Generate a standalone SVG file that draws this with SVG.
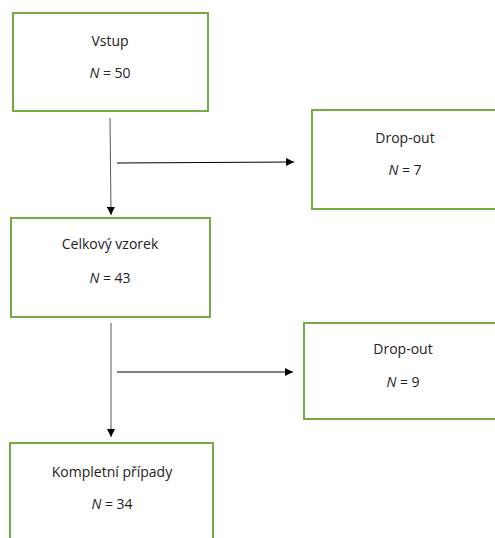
<svg xmlns="http://www.w3.org/2000/svg" width="495" height="538" viewBox="0 0 495 538">
<style>
.box{fill:#fff;stroke:#70AD47;stroke-width:2}
.t{font-family:"Open Sans","Liberation Sans",Arial,sans-serif;font-size:14px;fill:#222;text-anchor:middle}
.i{font-style:italic}
.c{stroke:#000;stroke-width:1;fill:none;marker-end:url(#ah)}
.v{stroke:#555}
</style>
<defs>
<marker id="ah" viewBox="0 0 10 10" refX="10" refY="5" markerWidth="8" markerHeight="8" markerUnits="userSpaceOnUse" orient="auto">
<path d="M0,0 L10,5 L0,10 z" fill="#000"/>
</marker>
</defs>
<rect width="495" height="538" fill="#fff"/>
<g id="connectors">
<line class="c v" x1="110" y1="118" x2="111" y2="215"/>
<line class="c" x1="117" y1="163" x2="294" y2="162"/>
<line class="c v" x1="111" y1="323" x2="111" y2="437"/>
<line class="c" x1="117" y1="372" x2="293" y2="372"/>
</g>
<g id="vstup">
<rect class="box" x="13" y="13" width="195" height="98"/>
<text class="t" x="110" y="46">Vstup</text>
<text class="t" x="110" y="78"><tspan class="i">N</tspan> = 50</text>
</g>
<g id="dropout1">
<rect class="box" x="312" y="110" width="190" height="99"/>
<text class="t" x="405" y="143">Drop-out</text>
<text class="t" x="405" y="175"><tspan class="i">N</tspan> = 7</text>
</g>
<g id="celkovy">
<rect class="box" x="11" y="218" width="199" height="99"/>
<text class="t" x="110" y="249">Celkový vzorek</text>
<text class="t" x="110" y="283"><tspan class="i">N</tspan> = 43</text>
</g>
<g id="dropout2">
<rect class="box" x="304" y="323" width="198" height="96"/>
<text class="t" x="403" y="354">Drop-out</text>
<text class="t" x="403" y="387"><tspan class="i">N</tspan> = 9</text>
</g>
<g id="kompletni">
<rect class="box" x="10" y="443" width="203" height="105"/>
<text class="t" x="112" y="477">Kompletní případy</text>
<text class="t" x="112" y="509"><tspan class="i">N</tspan> = 34</text>
</g>
</svg>
